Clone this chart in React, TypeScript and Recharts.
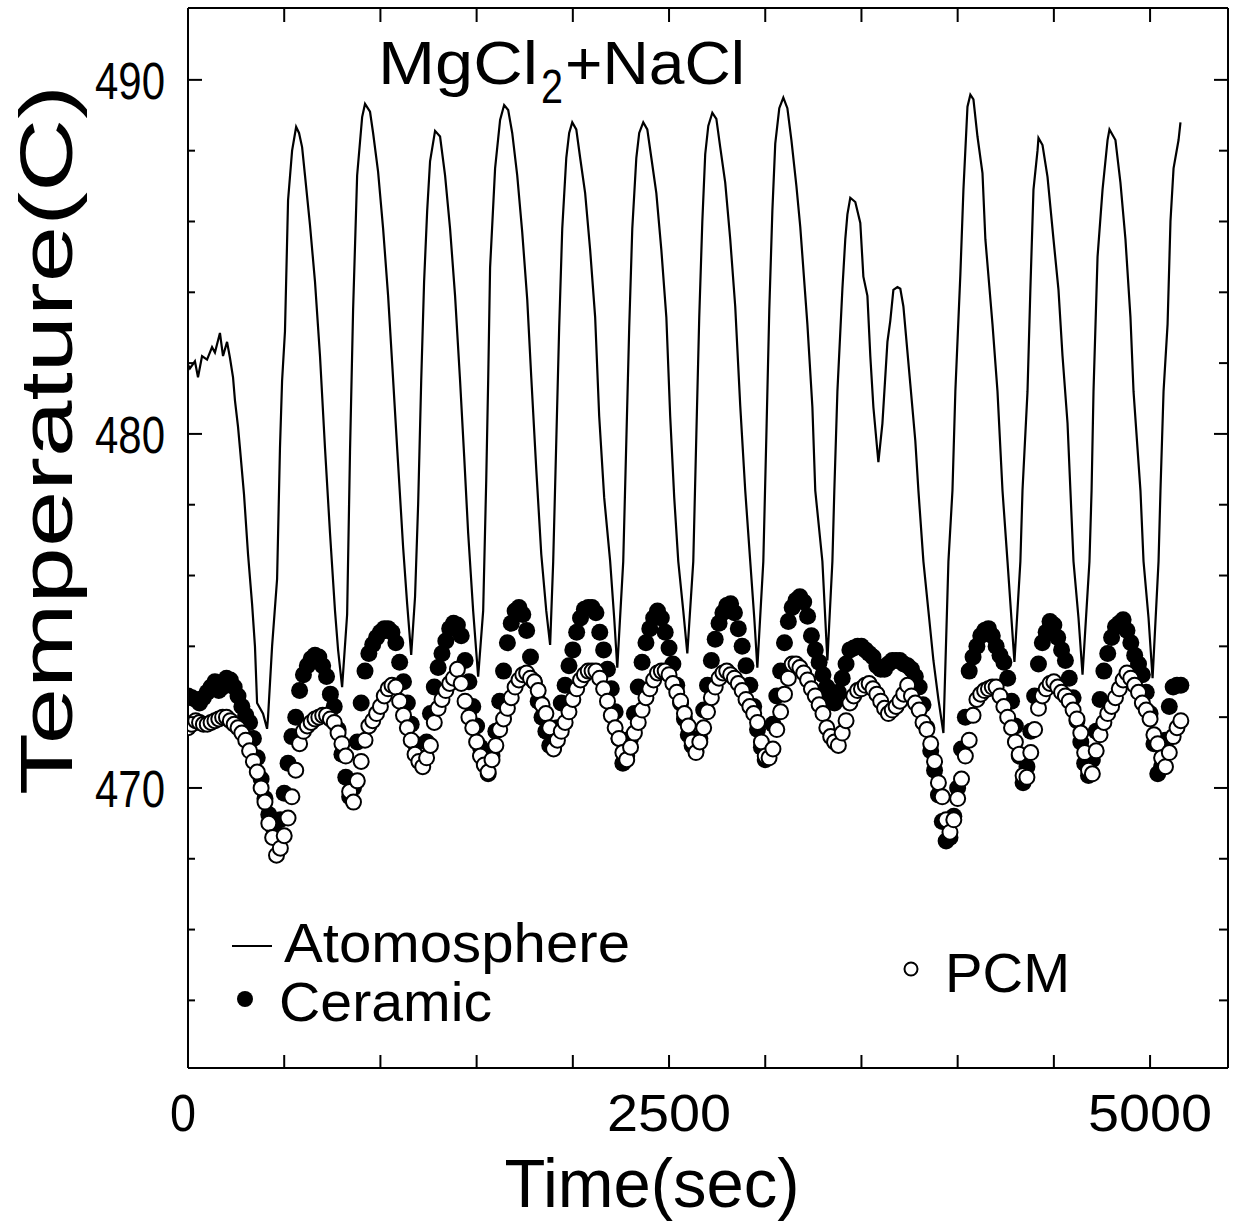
import { ComposedChart, Line, Scatter, XAxis, YAxis } from "recharts";

const FONT = "'Liberation Sans Narrow', 'Liberation Sans', Arial, sans-serif";

// logger sampled the two thermocouples every 20 s
const SAMPLE_SEC = 20;

const ceramicTemps = [
  472.6, 472.55, 472.5, 472.4, 472.55, 472.7, 472.85, 473.0, 472.75, 472.85,
  473.1, 473.05, 472.85, 472.6, 472.3, 472.05, 471.85, 471.4, 470.85, 470.25,
  469.7, 469.25, 468.9, 468.7, 469.1, 469.85, 470.7, 471.45, 472.0, 472.75,
  473.2, 473.45, 473.65, 473.75, 473.7, 473.45, 473.15, 472.65, 472.3, 471.65,
  470.95, 470.3, 469.75, 470.0, 471.3, 472.4, 473.3, 473.8, 474.05, 474.25,
  474.4, 474.5, 474.5, 474.4, 474.1, 473.55, 473.0, 472.4, 471.8, 471.25,
  470.85, 470.8, 471.3, 472.1, 472.85, 473.4, 473.8, 474.15, 474.5, 474.65,
  474.6, 474.3, 473.6, 473.0, 472.3, 471.75, 471.15, 470.7, 470.4, 470.9,
  471.6, 472.45, 473.3, 474.1, 474.65, 475.0, 475.1, 474.9, 474.45, 473.7,
  473.0, 472.45, 472.0, 471.6, 471.2, 471.15, 471.7, 472.4, 472.9, 473.45,
  473.9, 474.4, 474.8, 475.05, 475.1, 475.1, 474.95, 474.4, 473.9, 473.35,
  472.8, 472.15, 471.4, 470.7, 470.9, 471.4, 472.1, 472.85, 473.55, 474.1,
  474.5, 474.8, 475.0, 474.8, 474.4, 473.95, 473.5, 472.9, 472.4, 471.95,
  471.5, 471.2, 471.05, 471.4, 472.2, 472.9, 473.6, 474.2, 474.65, 474.95,
  475.15, 475.2, 474.95, 474.5, 474.0, 473.45, 472.9, 472.3, 471.65, 471.15,
  470.8, 471.05, 471.8, 472.6, 473.3, 474.1, 474.7, 475.1, 475.3, 475.4,
  475.25, 474.85, 474.3, 473.9, 473.55, 473.2, 472.85, 472.6, 472.4, 472.7,
  473.1, 473.5, 473.9, 473.95, 474.0, 474.0, 473.9, 473.8, 473.7, 473.45,
  473.35, 473.35, 473.5, 473.6, 473.6, 473.6, 473.5, 473.45, 473.35, 473.15,
  472.85, 472.35, 471.7, 471.05, 470.5, 469.8, 469.05, 468.5, 468.6, 469.2,
  470.0, 471.1, 472.0, 473.3, 473.7, 474.0, 474.3, 474.45, 474.5, 474.3,
  474.0, 473.75, 473.55, 473.1, 472.45, 471.75, 470.9, 470.15, 470.6, 471.6,
  472.6, 473.5, 474.1, 474.4, 474.7, 474.6, 474.25, 473.9, 473.6, 473.1,
  472.55, 471.9, 471.3, 470.7, 470.35, 470.8, 471.6, 472.5, 473.3, 473.8,
  474.25, 474.55, 474.65, 474.75, 474.45, 474.1, 473.75, 473.5, 473.2, 472.7,
  472.1, 471.25, 470.4, 470.6, 471.35, 472.3, 472.85, 472.9, 472.9,
];

const pcmTemps = [
  471.7, 471.8, 471.9, 471.85, 471.8, 471.8, 471.85, 471.9, 471.95, 472.0,
  472.0, 471.9, 471.8, 471.7, 471.55, 471.35, 471.05, 470.75, 470.45, 470.0,
  469.6, 469.0, 468.6, 468.1, 468.3, 468.65, 469.15, 469.75, 470.5, 471.25,
  471.6, 471.75, 471.85, 471.95, 472.0, 472.05, 472.05, 471.95, 471.85, 471.55,
  471.25, 470.9, 469.9, 469.6, 470.2, 470.75, 471.35, 471.75, 471.9, 472.1,
  472.3, 472.6, 472.8, 472.9, 472.85, 472.45, 472.05, 471.7, 471.35, 470.95,
  470.75, 470.6, 470.85, 471.2, 471.85, 472.25, 472.5, 472.75, 472.95, 473.1,
  473.35, 472.95, 472.45, 472.0, 471.7, 471.3, 470.9, 470.65, 470.45, 470.8,
  471.2, 471.65, 471.95, 472.25, 472.55, 472.85, 473.05, 473.2, 473.25, 473.1,
  473.0, 472.75, 472.35, 472.1, 471.7, 471.1, 471.35, 471.6, 471.85, 472.15,
  472.5, 472.8, 473.05, 473.2, 473.3, 473.3, 473.3, 473.1, 472.8, 472.45,
  472.05, 471.7, 471.4, 471.0, 470.8, 471.15, 471.55, 471.85, 472.2, 472.55,
  472.8, 473.05, 473.25, 473.3, 473.3, 473.2, 472.95, 472.7, 472.45, 472.1,
  471.75, 471.3, 471.0, 471.3, 471.7, 472.15, 472.55, 472.85, 473.1, 473.25,
  473.3, 473.2, 473.1, 472.95, 472.75, 472.5, 472.3, 472.1, 471.85, 471.3,
  470.9, 470.85, 471.1, 471.65, 472.15, 472.65, 473.1, 473.5, 473.5, 473.4,
  473.25, 473.05, 472.8, 472.6, 472.35, 472.1, 471.7, 471.45, 471.3, 471.2,
  471.55, 471.9, 472.4, 472.6, 472.75, 472.8, 472.9, 472.95, 472.8, 472.65,
  472.45, 472.25, 472.1, 472.2, 472.3, 472.45, 472.65, 472.9, 472.6, 472.4,
  472.2, 471.85, 471.65, 471.25, 470.75, 470.15, 469.75, 469.1, 468.75, 469.1,
  469.7, 470.25, 470.9, 471.35, 472.05, 472.5, 472.65, 472.75, 472.8, 472.85,
  472.85, 472.6, 472.3, 472.0, 471.7, 471.3, 470.95, 470.35, 470.3, 471.0,
  471.65, 472.25, 472.6, 472.8, 472.95, 473.0, 472.85, 472.7, 472.6, 472.45,
  472.2, 471.95, 471.55, 471.0, 470.5, 470.4, 471.05, 471.5, 471.85, 472.1,
  472.3, 472.55, 472.8, 473.05, 473.25, 473.1, 472.9, 472.7, 472.4, 472.2,
  471.95, 471.5, 471.25, 470.85, 470.6, 471.0, 471.45, 471.7, 471.9,
];

// atmosphere trace
const atmTimes = [
  0, 10, 36, 52, 73, 99, 125, 140, 166, 182, 203, 218, 234, 244, 260, 270, 291,
  312, 333, 348, 359, 390, 411, 416, 437, 463, 478, 489, 504, 520, 541, 562,
  577, 593, 608, 634, 660, 686, 712, 738, 764, 780, 801, 827, 842, 858, 879,
  905, 920, 946, 962, 988, 1014, 1040, 1061, 1087, 1118, 1139, 1160, 1180,
  1196, 1212, 1227, 1243, 1258, 1284, 1310, 1336, 1362, 1388, 1414, 1435, 1456,
  1482, 1508, 1534, 1550, 1560, 1570, 1596, 1622, 1643, 1664, 1685, 1711, 1737,
  1763, 1784, 1810, 1836, 1862, 1882, 1898, 1914, 1929, 1945, 1966, 1981, 1997,
  2018, 2038, 2064, 2090, 2116, 2137, 2163, 2194, 2215, 2231, 2262, 2278, 2293,
  2309, 2330, 2345, 2366, 2387, 2408, 2434, 2460, 2486, 2506, 2527, 2548, 2574,
  2595, 2626, 2642, 2657, 2673, 2688, 2704, 2725, 2746, 2766, 2792, 2818, 2844,
  2870, 2896, 2922, 2943, 2959, 2990, 3006, 3021, 3037, 3052, 3073, 3094, 3115,
  3136, 3162, 3182, 3219, 3245, 3260, 3297, 3323, 3349, 3359, 3375, 3401, 3416,
  3427, 3442, 3468, 3494, 3510, 3531, 3546, 3562, 3588, 3609, 3635, 3650, 3666,
  3687, 3702, 3718, 3754, 3780, 3796, 3822, 3848, 3874, 3900, 3926, 3952, 3973,
  3988, 4014, 4030, 4051, 4066, 4082, 4103, 4129, 4144, 4181, 4207, 4233, 4259,
  4295, 4326, 4337, 4363, 4378, 4394, 4415, 4420, 4441, 4467, 4498, 4524, 4545,
  4571, 4586, 4602, 4628, 4649, 4685, 4696, 4706, 4727, 4753, 4779, 4789, 4820,
  4846, 4872, 4898, 4914, 4950, 4966, 4992, 5013, 5044, 5054, 5070, 5091, 5106,
  5122, 5148, 5158,
];

const atmTemps = [
  481.95, 481.85, 482.05, 481.6, 482.2, 482.1, 482.45, 482.3, 482.85, 482.2,
  482.6, 482.15, 481.6, 480.95, 480.2, 479.6, 478.3, 476.6, 475.2, 474.0,
  472.4, 472.1, 471.67, 472.0, 474.0, 475.9, 479.6, 481.5, 482.9, 486.6,
  488.0, 488.67, 488.5, 488.1, 487.3, 485.9, 484.3, 482.2, 479.6, 477.2,
  475.0, 473.9, 472.85, 474.9, 479.5, 483.5, 487.3, 488.95, 489.32, 489.1,
  488.5, 487.4, 485.8, 483.9, 482.0, 479.6, 476.8, 475.2, 473.76, 475.4,
  478.0, 481.5, 484.3, 486.3, 487.7, 488.56, 488.4, 487.3, 485.8, 483.9,
  481.5, 479.4, 477.2, 475.0, 473.14, 475.0, 478.7, 481.5, 484.7, 487.5,
  488.87, 489.29, 489.15, 488.5, 487.3, 485.7, 483.8, 481.6, 479.0, 476.6,
  475.0, 474.04, 476.4, 479.8, 483.0, 485.8, 487.8, 488.5, 488.8, 488.6,
  487.8, 486.8, 485.2, 483.3, 480.5, 478.2, 476.4, 474.8, 473.4, 476.4,
  479.8, 483.0, 485.8, 487.8, 488.5, 488.8, 488.6, 487.8, 486.8, 485.2,
  483.3, 480.5, 478.2, 476.4, 475.0, 473.8, 476.4, 480.0, 483.3, 486.0,
  487.9, 488.7, 489.07, 488.9, 488.1, 487.1, 485.5, 483.6, 480.8, 478.4,
  476.4, 474.8, 473.4, 476.4, 480.0, 483.5, 486.3, 488.2, 489.2, 489.5,
  489.2, 488.3, 487.0, 485.85, 483.1, 480.76, 478.4, 476.4, 473.6, 476.4,
  478.4, 481.2, 484.1, 485.5, 486.2, 486.67, 486.55, 485.96, 484.44, 483.9,
  482.2, 480.76, 479.2, 480.3, 482.6, 483.2, 484.07, 484.15, 484.1, 483.6,
  481.4, 479.8, 478.4, 476.4, 475.0, 473.6, 472.5, 471.55, 476.4, 478.4,
  481.2, 484.5, 486.9, 489.24, 489.58, 489.45, 488.4, 487.37, 485.5, 483.1,
  481.2, 478.4, 476.4, 473.56, 476.4, 478.4, 481.2, 484.1, 486.9, 488.0,
  488.36, 488.16, 487.26, 485.5, 484.07, 482.2, 480.3, 478.4, 476.4, 474.8,
  473.2, 476.4, 478.4, 481.2, 485.0, 486.9, 488.3, 488.6, 488.3, 487.1,
  485.5, 483.3, 481.2, 478.4, 476.4, 474.8, 473.1, 476.4, 478.4, 481.2,
  483.1, 486.0, 487.5, 488.3, 488.8,
];

const timeTicks = [0, 500, 1000, 1500, 2000, 2500, 3000, 3500, 4000, 4500, 5000];
const timeLabels = [0, 2500, 5000];
const tempTicks = [464, 466, 468, 470, 472, 474, 476, 478, 480, 482, 484, 486, 488, 490];
const tempLabels = [470, 480, 490];

const ceramicData = ceramicTemps.map((v, i) => ({ t: i * SAMPLE_SEC, v }));
const pcmData = pcmTemps.map((v, i) => ({ t: i * SAMPLE_SEC, v }));
const atmData = atmTimes.map((t, i) => ({ t, v: atmTemps[i] }));

const axisLine = { stroke: "#000", strokeWidth: 2 };

function BottomTick({ x, y, payload }: any) {
  const v = payload.value;
  const label = String(v);
  const wide = label.length > 1;
  return (
    <g>
      <line x1={x} x2={x} y1={y} y2={y - 13} stroke="#000" strokeWidth={2} />
      {timeLabels.includes(v) && (
        <text
          x={wide ? x : x - 5}
          y={y + 63}
          textAnchor="middle"
          fontFamily={FONT}
          fontSize={52}
          fill="#000"
          textLength={wide ? 124 : 26}
          lengthAdjust="spacingAndGlyphs"
        >
          {label}
        </text>
      )}
    </g>
  );
}

function TopTick({ x, y }: any) {
  return <line x1={x} x2={x} y1={y} y2={y + 14} stroke="#000" strokeWidth={2} />;
}

function LeftTick({ x, y, payload }: any) {
  const v = payload.value;
  const major = v % 10 === 0;
  return (
    <g>
      <line x1={x} x2={x + (major ? 14 : 7)} y1={y} y2={y} stroke="#000" strokeWidth={2} />
      {tempLabels.includes(v) && (
        <text
          x={x - 23}
          y={y + 19}
          textAnchor="end"
          fontFamily={FONT}
          fontSize={52}
          fill="#000"
          textLength={70}
          lengthAdjust="spacingAndGlyphs"
        >
          {v}
        </text>
      )}
    </g>
  );
}

function RightTick({ x, y, payload }: any) {
  const major = payload.value % 10 === 0;
  return <line x1={x} x2={x - (major ? 14 : 9)} y1={y} y2={y} stroke="#000" strokeWidth={2} />;
}

function FilledDot({ cx, cy }: any) {
  return <circle cx={cx} cy={cy} r={8.5} fill="#000" />;
}

function OpenDot({ cx, cy }: any) {
  return <circle cx={cx} cy={cy} r={7.5} fill="#fff" stroke="#000" strokeWidth={2} />;
}

export default function App() {
  return (
    <div style={{ position: "absolute", left: 0, top: 0, width: 1259, height: 1227, background: "#fff" }}>
      <ComposedChart width={1259} height={1227} margin={{ top: 7, right: 30, bottom: 158, left: 187 }}>
        <XAxis
          xAxisId="bottom"
          type="number"
          dataKey="t"
          domain={[0, 5405]}
          allowDataOverflow
          ticks={timeTicks}
          interval={0}
          height={1}
          tickSize={0}
          tickMargin={0}
          tickLine={false}
          axisLine={axisLine}
          tick={BottomTick}
        />
        <XAxis
          xAxisId="top"
          orientation="top"
          type="number"
          dataKey="t"
          domain={[0, 5405]}
          allowDataOverflow
          ticks={timeTicks}
          interval={0}
          height={1}
          tickSize={0}
          tickMargin={0}
          tickLine={false}
          axisLine={axisLine}
          tick={TopTick}
        />
        <YAxis
          yAxisId="left"
          type="number"
          dataKey="v"
          domain={[462.09, 492.03]}
          allowDataOverflow
          ticks={tempTicks}
          interval={0}
          width={1}
          tickSize={0}
          tickMargin={0}
          tickLine={false}
          axisLine={axisLine}
          tick={LeftTick}
        />
        <YAxis
          yAxisId="right"
          orientation="right"
          type="number"
          dataKey="v"
          domain={[462.09, 492.03]}
          allowDataOverflow
          ticks={tempTicks}
          interval={0}
          width={1}
          tickSize={0}
          tickMargin={0}
          tickLine={false}
          axisLine={axisLine}
          tick={RightTick}
        />
        <Scatter
          name="Ceramic"
          data={ceramicData}
          dataKey="v"
          xAxisId="bottom"
          yAxisId="left"
          shape={FilledDot}
          isAnimationActive={false}
        />
        <Scatter
          name="PCM"
          data={pcmData}
          dataKey="v"
          xAxisId="bottom"
          yAxisId="left"
          shape={OpenDot}
          isAnimationActive={false}
        />
        <Line
          name="Atomosphere"
          data={atmData}
          dataKey="v"
          xAxisId="bottom"
          yAxisId="left"
          type="linear"
          stroke="#000"
          strokeWidth={2.2}
          dot={false}
          isAnimationActive={false}
        />
      </ComposedChart>

      <svg
        width={1259}
        height={1227}
        style={{ position: "absolute", left: 0, top: 0, pointerEvents: "none" }}
        fontFamily={FONT}
        fill="#000"
      >
        <text x={378} y={84} fontSize={62} textLength={160} lengthAdjust="spacingAndGlyphs">
          MgCl
        </text>
        <text x={541} y={103} fontSize={48} textLength={22} lengthAdjust="spacingAndGlyphs">
          2
        </text>
        <text x={565} y={84} fontSize={62} textLength={180} lengthAdjust="spacingAndGlyphs">
          +NaCl
        </text>

        <line x1={232} x2={272} y1={946} y2={946} stroke="#000" strokeWidth={2} />
        <text x={284} y={962} fontSize={55} textLength={346} lengthAdjust="spacingAndGlyphs">
          Atomosphere
        </text>
        <circle cx={245} cy={999} r={8} fill="#000" />
        <text x={279} y={1021} fontSize={55} textLength={213} lengthAdjust="spacingAndGlyphs">
          Ceramic
        </text>
        <circle cx={911} cy={969} r={6.5} fill="#fff" stroke="#000" strokeWidth={2} />
        <text x={945} y={992} fontSize={56} textLength={125} lengthAdjust="spacingAndGlyphs">
          PCM
        </text>

        <text
          x={652}
          y={1207}
          fontSize={68}
          textAnchor="middle"
          textLength={295}
          lengthAdjust="spacingAndGlyphs"
        >
          Time(sec)
        </text>
        <text
          x={72}
          y={440}
          fontSize={75}
          textAnchor="middle"
          transform="rotate(-90, 72, 440)"
          textLength={710}
          lengthAdjust="spacingAndGlyphs"
        >
          Temperature(C)
        </text>
      </svg>
    </div>
  );
}
